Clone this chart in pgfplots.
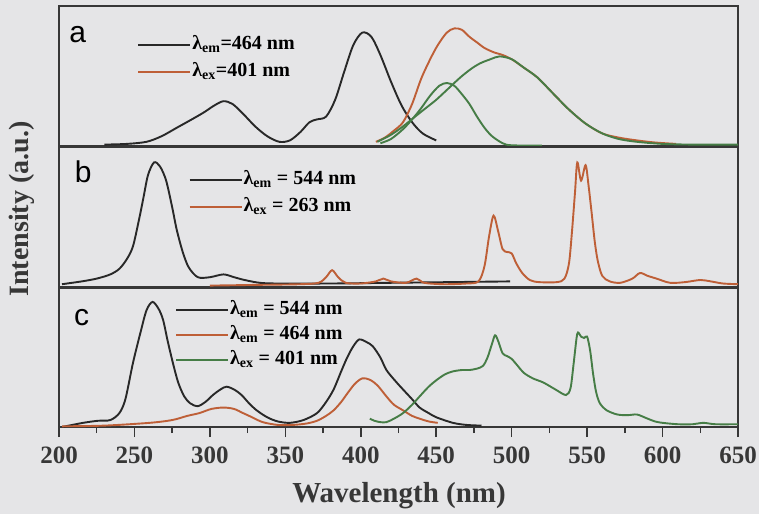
\documentclass[border=0pt]{standalone}
\usepackage{fontspec}
\setmainfont{Liberation Serif}
\newfontfamily\arialfont{Liberation Sans}
\usepackage{pgfplots}
\pgfplotsset{compat=1.18}
\definecolor{bg}{RGB}{229,229,231}
\definecolor{axgray}{RGB}{55,55,55}
\definecolor{cblack}{RGB}{40,40,40}
\definecolor{corange}{RGB}{190,95,55}
\definecolor{cgreen}{RGB}{70,125,70}
\pgfplotsset{
  panel/.style={
    width=679pt, scale only axis,
    xmin=200, xmax=650, ymin=0, ymax=1,
    ytick=\empty,
    axis line style={line width=1.8pt, draw=axgray},
    legend style={draw=none, fill=none, inner sep=0pt, outer sep=0pt, row sep=6pt,
      font=\bfseries\fontsize{20}{20}\selectfont,
      nodes={inner sep=1pt, text height=14pt, text depth=5pt}},
    legend cell align=left,
    legend image code/.code={\draw[##1, line width=1.9pt] (0pt,0pt) -- (52pt,0pt);},
    every axis plot/.append style={line width=1.9pt, smooth, no marks},
  }
}
\begin{document}
\begin{tikzpicture}
\useasboundingbox (0,0) rectangle (759pt,-514pt);
\fill[bg] (0,0) rectangle (759pt,-514pt);

% ---------------- panel a
\begin{axis}[panel, at={(59pt,-6pt)}, anchor=north west, height=140pt, xtick=\empty,
  legend style={at={(axis cs:252,0.796)}, anchor=north west}]
\addplot[cblack] coordinates {(230,0.01)(245,0.015)(258,0.03)(268,0.07)(278,0.13)(288,0.19)(296,0.24)(303,0.29)(309,0.32)(315,0.30)(322,0.23)(330,0.14)(338,0.07)(346,0.03)(353,0.04)(360,0.10)(366,0.17)(371,0.19)(377,0.21)(383,0.33)(389,0.53)(395,0.72)(401,0.81)(407,0.78)(413,0.65)(420,0.46)(427,0.29)(434,0.17)(441,0.09)(450,0.04)};
\addlegendentry{λ\textsubscript{em}=464 nm}
\addplot[corange] coordinates {(410,0.03)(416,0.06)(422,0.11)(428,0.17)(434,0.30)(440,0.48)(446,0.62)(451,0.72)(457,0.81)(462,0.84)(467,0.83)(472,0.78)(477,0.74)(482,0.70)(488,0.67)(494,0.65)(500,0.62)(508,0.56)(517,0.49)(527,0.38)(538,0.26)(549,0.16)(560,0.09)(571,0.06)(583,0.04)(595,0.025)(609,0.015)};
\addlegendentry{λ\textsubscript{ex}=401 nm}
\addplot[cgreen, forget plot] coordinates {(413,0.02)(420,0.05)(428,0.12)(434,0.19)(440,0.27)(446,0.36)(452,0.43)(457,0.45)(462,0.43)(467,0.37)(472,0.30)(477,0.21)(482,0.13)(487,0.07)(494,0.02)(500,0.005)(520,0.003)};
\addplot[cgreen, forget plot] coordinates {(411,0.03)(420,0.08)(428,0.14)(436,0.21)(443,0.27)(450,0.33)(458,0.41)(466,0.49)(473,0.55)(479,0.59)(486,0.62)(492,0.64)(500,0.62)(508,0.56)(517,0.49)(527,0.38)(538,0.26)(549,0.16)(560,0.09)(571,0.05)(583,0.03)(600,0.015)(620,0.01)(650,0.01)};
\node[anchor=base west, font=\arialfont\fontsize{30}{30}\selectfont] at (rel axis cs:0.010,0.736) {a};
\end{axis}

% ---------------- panel b
\begin{axis}[panel, at={(59pt,-147pt)}, anchor=north west, height=140pt, xtick=\empty,
  legend style={at={(axis cs:286,0.84)}, anchor=north west}]
\addplot[cblack] coordinates {(202,0.02)(215,0.04)(225,0.06)(234,0.09)(240,0.13)(245,0.20)(249,0.29)(253,0.48)(256,0.64)(259,0.80)(263,0.89)(267,0.86)(271,0.76)(275,0.57)(278,0.41)(282,0.25)(286,0.14)(292,0.07)(300,0.07)(309,0.09)(316,0.07)(323,0.05)(333,0.03)(345,0.025)(380,0.025)(420,0.03)(460,0.035)(499,0.04)};
\addlegendentry{λ\textsubscript{em} = 544 nm}
\addplot[corange] coordinates {(300,0.01)(330,0.015)(360,0.02)(372,0.03)(377,0.07)(381,0.12)(385,0.07)(390,0.03)(400,0.025)(410,0.04)(415,0.06)(420,0.04)(430,0.03)(437,0.06)(442,0.03)(455,0.02)(470,0.025)(478,0.04)(482,0.15)(485,0.36)(488,0.51)(491,0.40)(494,0.27)(497,0.25)(500,0.24)(503,0.17)(507,0.10)(512,0.05)(518,0.035)(530,0.035)(535,0.06)(538,0.17)(540,0.40)(542,0.68)(543.5,0.89)(546,0.76)(549,0.87)(551,0.72)(553,0.53)(555,0.33)(557,0.19)(560,0.08)(565,0.04)(572,0.03)(580,0.06)(585,0.10)(590,0.08)(596,0.06)(605,0.03)(615,0.035)(625,0.05)(632,0.04)(640,0.025)(650,0.02)};
\addlegendentry{λ\textsubscript{ex} = 263 nm}
\node[anchor=base west, font=\arialfont\fontsize{30}{30}\selectfont] at (rel axis cs:0.018,0.743) {b};
\end{axis}

% ---------------- panel c
\begin{axis}[panel, at={(59pt,-288pt)}, anchor=north west, height=139pt,
  xtick={200,250,...,650}, minor x tick num=1, tick align=outside, xtick pos=bottom,
  major tick length=10pt, minor tick length=6pt,
  tick style={line width=1.5pt, draw=axgray},
  xticklabel style={font=\bfseries\fontsize{25}{25}\selectfont, text=axgray, yshift=-6pt},
  /pgf/number format/assume math mode=true,
  legend style={at={(axis cs:277,0.92)}, anchor=north west, row sep=4pt}]
\addplot[cblack] coordinates {(202,0.0)(216,0.03)(226,0.045)(234,0.05)(240,0.10)(244,0.20)(249,0.46)(254,0.68)(258,0.84)(262,0.90)(266,0.85)(269,0.77)(272,0.62)(275.5,0.46)(279,0.32)(283,0.22)(287,0.17)(292,0.15)(297,0.18)(302,0.23)(307,0.27)(311,0.29)(316,0.27)(321,0.23)(326,0.17)(331,0.12)(338,0.07)(345,0.04)(353,0.03)(362,0.05)(371,0.10)(377,0.18)(382,0.27)(387,0.40)(391,0.50)(395,0.58)(399,0.63)(404,0.61)(408,0.58)(413,0.50)(417,0.41)(423,0.33)(428,0.27)(434,0.20)(439,0.14)(445,0.10)(450,0.07)(461,0.03)(470,0.015)(480,0.01)};
\addlegendentry{λ\textsubscript{em} = 544 nm}
\addplot[corange] coordinates {(202,0.005)(230,0.01)(260,0.03)(275,0.05)(285,0.08)(293,0.10)(301,0.13)(309,0.14)(316,0.13)(322,0.10)(328,0.07)(335,0.035)(345,0.015)(355,0.015)(364,0.025)(371,0.045)(377,0.08)(382,0.12)(387,0.18)(391,0.24)(396,0.31)(401,0.35)(406,0.34)(411,0.30)(417,0.22)(422,0.16)(428,0.12)(434,0.08)(439,0.06)(445,0.04)(451,0.03)};
\addlegendentry{λ\textsubscript{em} = 464 nm}
\addplot[cgreen] coordinates {(406,0.06)(409,0.045)(413,0.035)(417,0.035)(422,0.06)(428,0.10)(434,0.16)(439,0.22)(445,0.29)(450.5,0.34)(456,0.38)(461,0.40)(467,0.41)(472,0.41)(477,0.42)(481,0.44)(484,0.50)(487,0.60)(489,0.66)(491,0.62)(494,0.53)(497,0.51)(500,0.49)(504,0.44)(508,0.39)(514,0.35)(521,0.32)(529,0.27)(536,0.23)(539,0.28)(541,0.45)(543,0.64)(544,0.68)(546,0.65)(548,0.64)(550,0.65)(552,0.55)(554,0.38)(556,0.25)(558.5,0.17)(563,0.12)(570,0.09)(577,0.085)(583,0.09)(589,0.065)(595,0.04)(600,0.03)(610,0.02)(620,0.02)(627,0.03)(635,0.02)(650,0.02)};
\addlegendentry{λ\textsubscript{ex} = 401 nm}
\node[anchor=base west, font=\arialfont\fontsize{30}{30}\selectfont] at (rel axis cs:0.017,0.73) {c};
\end{axis}

\node[font=\bfseries\fontsize{29}{29}\selectfont, text=axgray] at (399pt,-496pt) {Wavelength (nm)};
\node[rotate=90, font=\bfseries\fontsize{28}{28}\selectfont, text=axgray] at (22pt,-209pt) {Intensity (a.u.)};
\end{tikzpicture}
\end{document}
